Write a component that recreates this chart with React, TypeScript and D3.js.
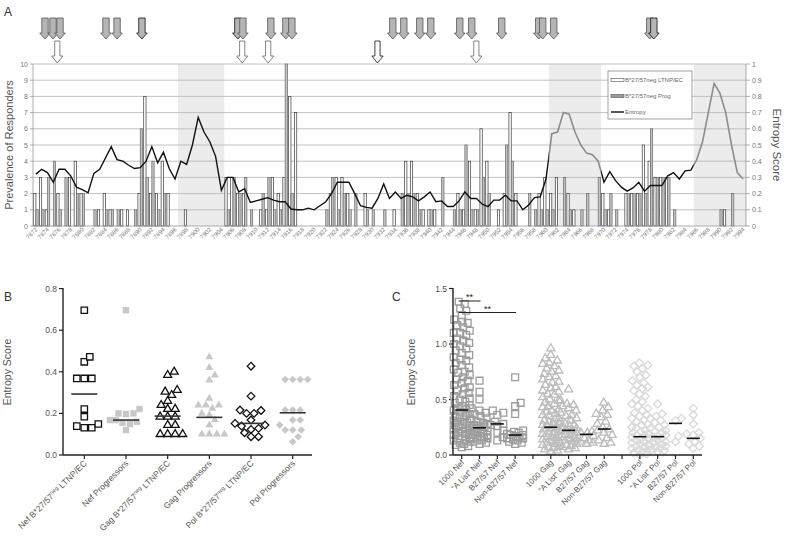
import React from "react";
import * as d3 from "d3";

const FONT = "'Liberation Sans', Arial, Helvetica, sans-serif";

// ---------------- Panel A data ----------------
const positions = d3.range(7872, 7995);
const ltnpCounts = [
  2, 3, 1, 0, 2, 0, 3, 4, 2, 0,
  0, 1, 2, 1, 0, 1, 1, 0, 2, 8,
  2, 2, 4, 2, 0, 0, 1, 0, 0, 0,
  0, 0, 0, 3, 3, 2, 2, 0, 0, 1,
  1, 3, 2, 3, 8, 7, 0, 0, 0, 0,
  0, 2, 3, 3, 2, 0, 0, 2, 0, 0,
  0, 0, 1, 0, 4, 4, 2, 1, 1, 1,
  0, 0, 0, 2, 1, 4, 1, 6, 4, 0,
  1, 2, 7, 2, 0, 0, 0, 2, 3, 2,
  3, 0, 2, 1, 0, 0, 0, 0, 2, 1,
  0, 0, 2, 2, 2, 5, 4, 3, 3, 3,
  0, 0, 0, 0, 0, 0, 0, 0, 0, 1,
  0, 0, 0,
];
const progCounts = [
  1, 1, 3, 4, 1, 3, 0, 2, 2, 0,
  1, 0, 1, 1, 1, 0, 0, 1, 6, 3,
  4, 1, 2, 0, 0, 0, 0, 0, 0, 0,
  0, 0, 0, 1, 3, 2, 3, 1, 0, 2,
  3, 1, 1, 10, 2, 0, 0, 0, 0, 0,
  1, 3, 1, 2, 1, 2, 0, 1, 1, 0,
  1, 0, 0, 2, 2, 2, 1, 0, 1, 0,
  3, 0, 1, 1, 5, 1, 1, 3, 2, 0,
  0, 5, 4, 0, 0, 2, 1, 1, 1, 1,
  0, 3, 1, 0, 1, 2, 0, 3, 1, 2,
  1, 0, 2, 2, 2, 2, 6, 3, 3, 3,
  1, 0, 0, 0, 0, 0, 0, 0, 1, 0,
  2, 0, 0,
];
const entropy = [
  0.32, 0.35, 0.33, 0.27, 0.35, 0.35, 0.31, 0.24, 0.225, 0.205,
  0.325, 0.35, 0.42, 0.49, 0.41, 0.4, 0.375, 0.355, 0.36, 0.4,
  0.49, 0.39, 0.455, 0.355, 0.29, 0.4, 0.38, 0.5, 0.67, 0.58,
  0.52, 0.43, 0.22, 0.3, 0.3, 0.21, 0.23, 0.145, 0.155, 0.165,
  0.175, 0.16, 0.15, 0.15, 0.105, 0.1, 0.1, 0.11, 0.1, 0.125,
  0.15, 0.2, 0.27, 0.27, 0.27, 0.2, 0.125, 0.115, 0.11, 0.17,
  0.26, 0.17, 0.21, 0.17, 0.19, 0.18, 0.155, 0.18, 0.21, 0.15,
  0.155, 0.12, 0.12, 0.155, 0.21, 0.17, 0.17, 0.135, 0.12, 0.16,
  0.16, 0.19, 0.155, 0.155, 0.1, 0.13, 0.175, 0.18, 0.29, 0.57,
  0.58, 0.7, 0.69, 0.58, 0.5, 0.45, 0.44, 0.4, 0.27, 0.335,
  0.28, 0.24, 0.215, 0.235, 0.27, 0.215, 0.25, 0.25, 0.25, 0.31,
  0.33, 0.29, 0.34, 0.345, 0.41, 0.52, 0.7, 0.88, 0.82, 0.7,
  0.5, 0.33, 0.29,
];
const shadedRanges: [number, number][] = [[7897, 7904], [7961, 7969], [7986, 7994]];
const grayLineRanges: [number, number][] = [[7961, 7969], [7986, 7994]];
const leftTicks = [0, 1, 2, 3, 4, 5, 6, 7, 8, 9, 10];
const rightTicks = [0, 0.1, 0.2, 0.3, 0.4, 0.5, 0.6, 0.7, 0.8, 0.9, 1];
const grayArrows = [
  7873.57, 7874.95, 7876.16, 7884.09, 7886.0, 7890.29, 7906.84, 7907.71, 7912.53,
  7915.12, 7916.16, 7933.57, 7935.47, 7938.22, 7940.12, 7945.12, 7947.19, 7952.36,
  7958.74, 7959.43, 7961.33, 7977.9, 7978.6,
];
const darkGrayArrows = [7890.29, 7906.84, 7978.6];
const whiteArrows = [7875.69, 7907.59, 7912.07, 7930.93, 7947.98];
const darkWhiteArrows = [7930.93];
const legendLabels = ["B*27/57neg LTNP/EC", "B*27/57neg Prog", "Entropy"];

// ---------------- Panel B data ----------------
const bCategories = ["Nef LTNP", "Nef Prog", "Gag LTNP", "Gag Prog", "Pol LTNP", "Pol Prog"];
const bNefLtnp = [0.696, 0.472, 0.448, 0.368, 0.368, 0.368, 0.221, 0.184, 0.139, 0.131, 0.131, 0.149];
const bNefProg = [0.696, 0.221, 0.2, 0.197, 0.2, 0.168, 0.168, 0.155, 0.16, 0.149, 0.12];
const bGagLtnp = [0.384, 0.4, 0.312, 0.304, 0.288, 0.259, 0.24, 0.221, 0.221, 0.184, 0.184, 0.184, 0.144, 0.144, 0.1, 0.1, 0.1, 0.1];
const bGagProg = [0.472, 0.42, 0.384, 0.36, 0.272, 0.24, 0.24, 0.24, 0.192, 0.2, 0.224, 0.168, 0.144, 0.1, 0.1, 0.1, 0.1];
const bPolLtnp = [0.427, 0.283, 0.214, 0.2, 0.2, 0.216, 0.168, 0.152, 0.144, 0.139, 0.123, 0.107, 0.088, 0.088, 0.128];
const bPolProg = [0.363, 0.363, 0.363, 0.363, 0.168, 0.216, 0.216, 0.216, 0.168, 0.12, 0.12, 0.12, 0.144, 0.088, 0.064];
const bLines = [0.293, 0.168, 0.187, 0.181, 0.152, 0.203];
const bTicks = [0, 0.2, 0.4, 0.6, 0.8];

// ---------------- Panel C data ----------------
const cSlots = [
  "1000 Nef", "“A List” Nef", "B27/57 Nef", "Non-B27/57 Nef", "gapGag",
  "1000 Gag", "“A List” Gag", "B27/57 Gag", "Non-B27/57 Gag", "gapPol",
  "1000 Pol", "“A List” Pol", "B27/57 Pol", "Non-B27/57 Pol",
];
const cNef1000 = [1.38, 1.36, 1.32, 1.3, 1.26, 1.22, 1.2, 1.19, 1.17, 1.15, 1.12, 1.1, 1.1, 1.08, 1.05, 1.03, 1.01, 1.0, 0.98, 0.96, 0.94, 0.92, 0.9, 0.88, 0.86, 0.85, 0.83, 0.81, 0.79, 0.77, 0.75, 0.74, 0.72, 0.7, 0.68, 0.67, 0.65, 0.63, 0.61, 0.6, 0.58, 0.56, 0.55, 0.53, 0.51, 0.5, 0.48, 0.47, 0.45, 0.44, 0.42, 0.41, 0.4, 0.39, 0.37, 0.36, 0.35, 0.34, 0.33, 0.32, 0.31, 0.3, 0.29, 0.28, 0.27, 0.26, 0.25, 0.24, 0.23, 0.22, 0.21, 0.2, 0.19, 0.18, 0.17, 0.16, 0.15, 0.14, 0.13, 0.12, 0.11, 0.1, 0.09, 0.08, 0.07];
const cAListNef = [0.67, 0.57, 0.5, 0.42, 0.4, 0.38, 0.37, 0.35, 0.33, 0.32, 0.3, 0.29, 0.28, 0.27, 0.26, 0.25, 0.24, 0.24, 0.23, 0.22, 0.21, 0.2, 0.2, 0.19, 0.18, 0.18, 0.17, 0.16, 0.15, 0.15, 0.14, 0.13, 0.12, 0.11, 0.1];
const cB27Nef = [0.4, 0.38, 0.36, 0.3, 0.28, 0.27, 0.26, 0.22, 0.2, 0.16, 0.13];
const cNonB27Nef = [0.7, 0.47, 0.44, 0.37, 0.22, 0.21, 0.2, 0.19, 0.18, 0.18, 0.17, 0.16, 0.15, 0.15, 0.14, 0.13, 0.12, 0.11, 0.1];
const cGag1000 = [0.96, 0.9, 0.87, 0.85, 0.83, 0.82, 0.8, 0.78, 0.76, 0.75, 0.73, 0.71, 0.7, 0.68, 0.66, 0.65, 0.63, 0.61, 0.6, 0.58, 0.57, 0.55, 0.54, 0.52, 0.5, 0.49, 0.47, 0.46, 0.44, 0.43, 0.41, 0.4, 0.39, 0.37, 0.36, 0.35, 0.33, 0.32, 0.31, 0.3, 0.29, 0.28, 0.27, 0.26, 0.25, 0.24, 0.23, 0.22, 0.21, 0.2, 0.19, 0.18, 0.17, 0.16, 0.15, 0.14, 0.13, 0.12, 0.11, 0.1, 0.09, 0.08, 0.07, 0.06, 0.05, 0.04, 0.03];
const cAListGag = [0.59, 0.49, 0.46, 0.45, 0.44, 0.42, 0.4, 0.38, 0.36, 0.35, 0.33, 0.31, 0.3, 0.28, 0.27, 0.26, 0.25, 0.24, 0.23, 0.22, 0.21, 0.2, 0.19, 0.18, 0.17, 0.16, 0.15, 0.14, 0.13, 0.12, 0.11, 0.1, 0.09, 0.08, 0.07, 0.06, 0.05];
const cB27Gag = [0.21, 0.2, 0.2, 0.17, 0.15, 0.13, 0.12, 0.11, 0.1];
const cNonB27Gag = [0.47, 0.43, 0.4, 0.37, 0.36, 0.34, 0.3, 0.28, 0.25, 0.23, 0.22, 0.2, 0.18, 0.15, 0.13, 0.11, 0.1];
const cPol1000 = [0.83, 0.81, 0.8, 0.78, 0.75, 0.72, 0.7, 0.67, 0.65, 0.63, 0.61, 0.6, 0.58, 0.55, 0.53, 0.5, 0.48, 0.46, 0.44, 0.42, 0.4, 0.38, 0.36, 0.35, 0.33, 0.31, 0.3, 0.28, 0.27, 0.25, 0.24, 0.22, 0.21, 0.2, 0.19, 0.18, 0.17, 0.16, 0.15, 0.14, 0.13, 0.12, 0.11, 0.1, 0.09, 0.08, 0.07, 0.06, 0.05, 0.04, 0.03, 0.02, 0.01, 0.0];
const cAListPol = [0.46, 0.37, 0.35, 0.33, 0.31, 0.29, 0.27, 0.25, 0.24, 0.22, 0.21, 0.2, 0.19, 0.18, 0.17, 0.16, 0.15, 0.14, 0.13, 0.12, 0.11, 0.1, 0.09, 0.08, 0.07, 0.06, 0.05, 0.04, 0.03];
const cB27Pol = [0.33, 0.31, 0.17, 0.12];
const cNonB27Pol = [0.42, 0.36, 0.28, 0.2, 0.19, 0.18, 0.15, 0.12, 0.1, 0.08, 0.06];
const cLines = [0.405, 0.245, 0.28, 0.18, 0.25, 0.222, 0.186, 0.234, 0.165, 0.165, 0.285, 0.15];
const cTicks = [0, 0.5, 1.0, 1.5];

// ---------------- helpers ----------------
function swarm(values: number[], y: (v: number) => number, d: number, maxHalf: number) {
  const order = [...values].sort((a, b) => a - b);
  const placed: { x: number; y: number; v: number }[] = [];
  const offs: number[] = [0];
  for (let k = 0.5; k <= maxHalf + 1e-9; k += 0.5) offs.push(k, -k);
  for (const v of order) {
    const py = y(v);
    let best = 0;
    let bestScore = -1;
    for (const c of offs) {
      let minD = Infinity;
      for (const p of placed) {
        const dy = p.y - py;
        if (Math.abs(dy) >= d) continue;
        const dist = Math.hypot(p.x - c, dy);
        if (dist < minD) minD = dist;
      }
      if (minD >= d) {
        best = c;
        break;
      }
      if (minD > bestScore) {
        bestScore = minD;
        best = c;
      }
    }
    placed.push({ x: best, y: py, v });
  }
  return placed;
}

type Shape = "square" | "triangle" | "diamond";
function shapePath(shape: Shape, size: number) {
  if (shape === "square") return d3.symbol(d3.symbolSquare, size * size)() as string;
  if (shape === "triangle") return d3.symbol(d3.symbolTriangle, (Math.sqrt(3) / 4) * size * size)() as string;
  const s = size / 2;
  return `M0,${-s}L${s},0L0,${s}L${-s},0Z`;
}

function arrowPath(x: number, top: number, hs: number, tip: number, sw: number, hw: number) {
  return `M${x - sw},${top}L${x + sw},${top}L${x + sw},${hs}L${x + hw},${hs}L${x},${tip}L${x - hw},${hs}L${x - sw},${hs}Z`;
}

export default function App() {
  // ---------- Panel A ----------
  const ax0 = 33, ax1 = 746, ayTop = 64, ayBot = 226;
  const xA = d3.scaleBand<number>().domain(positions).range([ax0, ax1]).padding(0);
  const bw = xA.bandwidth();
  const yA = d3.scaleLinear().domain([0, 10]).range([ayBot, ayTop]);
  const yE = d3.scaleLinear().domain([0, 1]).range([ayBot, ayTop]);
  const posX = d3.scaleLinear().domain([7871.5, 7994.5]).range([ax0, ax1]);
  const line = d3
    .line<number>()
    .x((_, i) => (xA(positions[i]) as number) + bw / 2)
    .y((e) => yE(e));
  const entropyPath = line(entropy) as string;
  const grayPx = grayLineRanges.map(([a, b]) => [xA(a) as number, (xA(b) as number) + bw]);
  const blackClip: [number, number][] = [];
  let cursor = ax0 - 5;
  grayPx.forEach(([s, e]) => {
    blackClip.push([cursor, s]);
    cursor = e;
  });
  blackClip.push([cursor, ax1 + 5]);

  // ---------- Panel B ----------
  const bx0 = 63, bx1 = 312, byTop = 288.6, byBot = 455;
  const xB = d3.scalePoint<string>().domain(bCategories).range([84.3, 292.7]);
  const yB = d3.scaleLinear().domain([0, 0.8]).range([byBot, byTop]);
  const bSeries: { vals: number[]; shape: Shape; filled: boolean }[] = [
    { vals: bNefLtnp, shape: "square", filled: false },
    { vals: bNefProg, shape: "square", filled: true },
    { vals: bGagLtnp, shape: "triangle", filled: false },
    { vals: bGagProg, shape: "triangle", filled: true },
    { vals: bPolLtnp, shape: "diamond", filled: false },
    { vals: bPolProg, shape: "diamond", filled: true },
  ];
  const bLabels: [string, string, string][] = [
    ["Nef B*27/57", "neg", " LTNP/EC"],
    ["Nef Progressors", "", ""],
    ["Gag B*27/57", "neg", " LTNP/EC"],
    ["Gag Progressors", "", ""],
    ["Pol B*27/57", "neg", " LTNP/EC"],
    ["Pol Progressors", "", ""],
  ];

  // ---------- Panel C ----------
  const cx0 = 453, cx1 = 702, cyTop = 288.5, cyBot = 455;
  const xC = d3.scalePoint<string>().domain(cSlots).range([461.7, 693.3]);
  const yC = d3.scaleLinear().domain([0, 1.5]).range([cyBot, cyTop]);
  const cGroups = cSlots.filter((s) => !s.startsWith("gap"));
  const cValues = [cNef1000, cAListNef, cB27Nef, cNonB27Nef, cGag1000, cAListGag, cB27Gag, cNonB27Gag, cPol1000, cAListPol, cB27Pol, cNonB27Pol];
  const cStyle = (i: number): { shape: Shape; color: string; size: number } =>
    i < 4 ? { shape: "square", color: "#9c9c9c", size: 6.8 } : i < 8 ? { shape: "triangle", color: "#bcbcbc", size: 8.2 } : { shape: "diamond", color: "#d9d9d9", size: 8 };

  const txt = "#555";

  return (
    <svg width={788} height={538} style={{ position: "absolute", left: 0, top: 0, background: "#fff" }} fontFamily={FONT}>
      <defs>
        <clipPath id="clipBlack">
          {blackClip.map(([s, e], i) => (
            <rect key={i} x={s} y={0} width={e - s} height={260} />
          ))}
        </clipPath>
        <clipPath id="clipGray">
          {grayPx.map(([s, e], i) => (
            <rect key={i} x={s} y={0} width={e - s} height={260} />
          ))}
        </clipPath>
      </defs>

      {/* ================= Panel A ================= */}
      <text x={4} y={16} fontSize={12} fill="#333">A</text>
      {shadedRanges.map(([a, b], i) => (
        <rect key={i} x={xA(a)} y={ayTop} width={(xA(b) as number) + bw - (xA(a) as number)} height={ayBot - ayTop} fill="#ececec" />
      ))}
      {leftTicks.slice(1).map((t) => (
        <line key={t} x1={ax0} x2={ax1} y1={yA(t)} y2={yA(t)} stroke="#b3b3b3" strokeWidth={0.8} />
      ))}
      {/* bars */}
      {positions.map((p, i) => (
        <g key={p}>
          {ltnpCounts[i] > 0 && (
            <rect x={(xA(p) as number) + bw * 0.1} y={yA(ltnpCounts[i])} width={bw * 0.4} height={yA(0) - yA(ltnpCounts[i])} fill="#fff" stroke="#3a3a3a" strokeWidth={0.7} />
          )}
          {progCounts[i] > 0 && (
            <rect x={(xA(p) as number) + bw * 0.5} y={yA(progCounts[i])} width={bw * 0.4} height={yA(0) - yA(progCounts[i])} fill="#c2c2c2" stroke="#6a6a6a" strokeWidth={0.7} />
          )}
        </g>
      ))}
      {/* axes */}
      <line x1={ax0} x2={ax0} y1={ayTop} y2={ayBot} stroke="#999" strokeWidth={0.8} />
      <line x1={ax0} x2={ax1} y1={ayBot} y2={ayBot} stroke="#999" strokeWidth={0.8} />
      <line x1={ax1} x2={ax1} y1={ayTop} y2={ayBot} stroke="#999" strokeWidth={0.8} />
      {leftTicks.map((t) => (
        <g key={t}>
          <line x1={ax0 - 3} x2={ax0} y1={yA(t)} y2={yA(t)} stroke="#999" strokeWidth={0.8} />
          <text x={ax0 - 5} y={yA(t) + 2.5} fontSize={7} fill="#777" textAnchor="end">{t}</text>
        </g>
      ))}
      {rightTicks.map((t) => (
        <g key={t}>
          <line x1={ax1} x2={ax1 + 4} y1={yE(t)} y2={yE(t)} stroke="#999" strokeWidth={0.8} />
          <text x={ax1 + 6} y={yE(t) + 2.5} fontSize={7} fill="#777">{t}</text>
        </g>
      ))}
      {positions.filter((p) => (p - 7872) % 2 === 0).map((p) => {
        const x = (xA(p) as number) + bw / 2 + 2;
        const y = ayBot + 4;
        return (
          <text key={p} x={x} y={y} fontSize={6} fill="#777" textAnchor="end" transform={`rotate(-45 ${x} ${y})`}>{p}</text>
        );
      })}
      {/* entropy line */}
      <path d={entropyPath} fill="none" stroke="#111" strokeWidth={1.4} clipPath="url(#clipBlack)" />
      <path d={entropyPath} fill="none" stroke="#8c8c8c" strokeWidth={1.6} clipPath="url(#clipGray)" />
      {/* axis titles */}
      <text transform="translate(13,145) rotate(-90)" fontSize={11} fill={txt} textAnchor="middle">Prevalence of Responders</text>
      <text transform="translate(773,145) rotate(90)" fontSize={11.5} fill={txt} textAnchor="middle">Entropy Score</text>
      {/* legend */}
      <rect x={608} y={71} width={84} height={48} fill="#fff" stroke="#8a8a8a" strokeWidth={0.8} />
      <rect x={611} y={78.5} width={13} height={3} fill="#fff" stroke="#666" strokeWidth={0.7} />
      <rect x={611} y={94.5} width={13} height={3} fill="#9a9a9a" stroke="#666" strokeWidth={0.7} />
      <line x1={611} x2={624} y1={112} y2={112} stroke="#111" strokeWidth={1.4} />
      {legendLabels.map((l, i) => (
        <text key={l} x={625} y={82 + i * 16} fontSize={6} fill="#666">{l}</text>
      ))}
      {/* arrows */}
      {grayArrows.map((p, i) => (
        <path key={i} d={arrowPath(posX(p), 18, 33, 39, 3.2, 5.3)} fill="#b5b5b5" stroke={darkGrayArrows.includes(p) ? "#111" : "#555"} strokeWidth={0.8} />
      ))}
      {whiteArrows.map((p, i) => (
        <path key={i} d={arrowPath(posX(p), 41, 56, 63, 2.6, 5.6)} fill="#fff" stroke={darkWhiteArrows.includes(p) ? "#111" : "#666"} strokeWidth={0.8} />
      ))}

      {/* ================= Panel B ================= */}
      <text x={4} y={301} fontSize={12} fill="#333">B</text>
      <text transform="translate(11,372) rotate(-90)" fontSize={10.5} fill={txt} textAnchor="middle">Entropy Score</text>
      {bTicks.map((t) => (
        <g key={t}>
          <line x1={bx0 - 4} x2={bx0} y1={yB(t)} y2={yB(t)} stroke="#222" strokeWidth={1.2} />
          <text x={bx0 - 6} y={yB(t) + 3} fontSize={8.5} fill={txt} textAnchor="end">{t.toFixed(1)}</text>
        </g>
      ))}
      {bSeries.map((s, gi) => {
        const cx = xB(bCategories[gi]) as number;
        const pts = swarm(s.vals, yB, 7.2, 16);
        const path = shapePath(s.shape, s.shape === "square" ? 6.4 : s.shape === "triangle" ? 8 : 7.6);
        return (
          <g key={gi}>
            {pts.map((p, j) => (
              <path key={j} d={path} transform={`translate(${cx + p.x},${p.y})`} fill={s.filled ? "#c8c8c8" : "#fff"} stroke={s.filled ? "none" : "#111"} strokeWidth={1.3} />
            ))}
            <line x1={cx - 13} x2={cx + 13} y1={yB(bLines[gi])} y2={yB(bLines[gi])} stroke="#333" strokeWidth={1.6} />
          </g>
        );
      })}
      <line x1={bx0} x2={bx0} y1={byTop - 0.5} y2={byBot} stroke="#222" strokeWidth={1.4} />
      <line x1={bx0} x2={bx1} y1={byBot} y2={byBot} stroke="#222" strokeWidth={1.4} />
      {bCategories.map((c, i) => {
        const x = xB(c) as number;
        const lx = x + 3;
        const ly = byBot + 9;
        const [a, sup, b] = bLabels[i];
        return (
          <g key={c}>
            <line x1={x} x2={x} y1={byBot} y2={byBot + 4} stroke="#222" strokeWidth={1.2} />
            <text x={lx} y={ly} fontSize={8.5} fill={txt} textAnchor="end" transform={`rotate(-45 ${lx} ${ly})`}>
              {a}
              {sup && (
                <tspan fontSize={5.5} dy={-3}>{sup}</tspan>
              )}
              {b && <tspan dy={sup ? 3 : 0}>{b}</tspan>}
            </text>
          </g>
        );
      })}

      {/* ================= Panel C ================= */}
      <text x={392} y={301} fontSize={12} fill="#333">C</text>
      <text transform="translate(415,372) rotate(-90)" fontSize={10.5} fill={txt} textAnchor="middle">Entropy Score</text>
      {cTicks.map((t) => (
        <g key={t}>
          <line x1={cx0 - 4} x2={cx0} y1={yC(t)} y2={yC(t)} stroke="#222" strokeWidth={1.2} />
          <text x={cx0 - 6} y={yC(t) + 3} fontSize={8.5} fill={txt} textAnchor="end">{t.toFixed(1)}</text>
        </g>
      ))}
      {cGroups.map((g, gi) => {
        const cx = xC(g) as number;
        const st = cStyle(gi);
        const pts = swarm(cValues[gi], yC, 6.2, 8);
        const path = shapePath(st.shape, st.size);
        return (
          <g key={g}>
            {pts.map((p, j) => (
              <path key={j} d={path} transform={`translate(${cx + p.x},${p.y})`} fill="none" stroke={st.color} strokeWidth={1.3} />
            ))}
          </g>
        );
      })}
      {cGroups.map((g, gi) => {
        const cx = xC(g) as number;
        return <line key={g} x1={cx - 6.5} x2={cx + 6.5} y1={yC(cLines[gi])} y2={yC(cLines[gi])} stroke="#111" strokeWidth={1.6} />;
      })}
      <line x1={cx0} x2={cx0} y1={cyTop - 0.5} y2={cyBot} stroke="#222" strokeWidth={1.4} />
      <line x1={cx0} x2={cx1} y1={cyBot} y2={cyBot} stroke="#222" strokeWidth={1.4} />
      {cSlots.map((s) => {
        const x = xC(s) as number;
        const lx = x + 3;
        const ly = cyBot + 8;
        return (
          <g key={s}>
            <line x1={x} x2={x} y1={cyBot} y2={cyBot + 4} stroke="#222" strokeWidth={1.2} />
            {!s.startsWith("gap") && (
              <text x={lx} y={ly} fontSize={8} fill={txt} textAnchor="end" transform={`rotate(-45 ${lx} ${ly})`}>{s}</text>
            )}
          </g>
        );
      })}
      {/* significance */}
      {[[cSlots[0], cSlots[1], 301], [cSlots[0], cSlots[3], 312.5]].map(([a, b, y], i) => {
        const xa = (xC(a as string) as number) - 3;
        const xb = (xC(b as string) as number) + 1;
        return (
          <g key={i}>
            <line x1={xa} x2={xb} y1={y as number} y2={y as number} stroke="#222" strokeWidth={1} />
            <text x={(xa + xb) / 2} y={(y as number) - 1} fontSize={9} fill="#222" textAnchor="middle">**</text>
          </g>
        );
      })}
    </svg>
  );
}
